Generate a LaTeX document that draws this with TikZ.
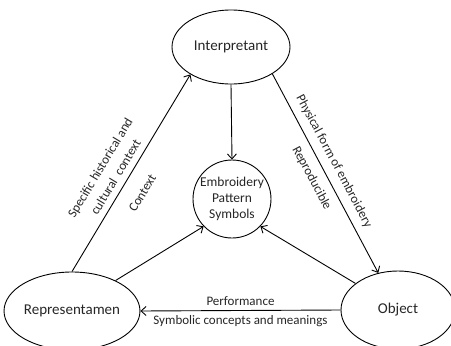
\documentclass[tikz,border=0pt]{standalone}
\usepackage{fontspec}
\setmainfont{Carlito}
\usetikzlibrary{arrows.meta,positioning,shapes.geometric}
\definecolor{ink}{HTML}{262626}

\begin{document}
\begin{tikzpicture}[x=1pt,y=-1pt,
  sign/.style={draw,ellipse,line width=0.9pt,inner sep=0pt,font=\fontsize{15}{18}\selectfont,text=ink},
  core/.style={draw,circle,line width=0.9pt,inner sep=0pt,minimum size=78pt,align=center,font=\fontsize{13.5}{16}\selectfont,text=ink},
  rel/.style={draw,line width=0.9pt,-{Straight Barb[length=5pt,width=9pt]}},
  lbl/.style={font=\fontsize{13}{18}\selectfont,text=ink}]
  \useasboundingbox (0,0) rectangle (451,346);

  % Triad
  \node[sign,minimum width=118pt,minimum height=74pt] (interp) at (231,47) {Interpretant};
  \node[sign,minimum width=120pt,minimum height=78pt] (repr) at (72,311) {Representamen};
  \node[sign,minimum width=114pt,minimum height=78pt] (obj) at (398,310) {Object};
  \node[core] (sym) at (232,199) {Embroidery\\Pattern\\Symbols};

  % Outer relations
  \draw[rel] (repr.90) -- (interp.214)
    node[lbl,sloped,above=3pt,pos=0.45,align=center] {Specific historical and\\cultural\ \ context}
    node[lbl,sloped,below=12pt,pos=0.45] {Context};
  \draw[rel] (interp.327) -- (obj.118)
    node[lbl,sloped,above=4pt,pos=0.47] {Physical form of embroidery}
    node[lbl,sloped,below=5pt,pos=0.49] {Reproducible};
  \draw[rel] (obj.west) -- (repr.east)
    node[lbl,above=1pt,midway] {Performance}
    node[lbl,below=1pt,midway] {Symbolic concepts and meanings};

  % Inner relations
  \draw[rel] (interp.south) -- (sym.north);
  \draw[rel] (repr.35) -- (sym.224);
  \draw[rel] (obj.148) -- (sym.316);
\end{tikzpicture}
\end{document}
